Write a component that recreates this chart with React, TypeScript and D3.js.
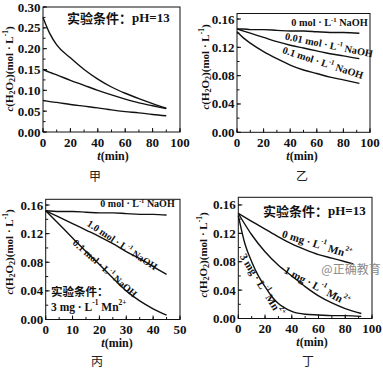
import React from 'react';
import * as d3 from 'd3';

const W = 383;
const H = 369;

// 甲
const jiaTime = [0, 5, 10, 20, 30, 40, 50, 60, 70, 80, 90];
const jiaHigh = [0.275, 0.236, 0.209, 0.178, 0.150, 0.127, 0.108, 0.093, 0.080, 0.068, 0.057];
const jiaMid = [0.150, 0.143, 0.137, 0.124, 0.112, 0.100, 0.089, 0.079, 0.070, 0.063, 0.056];
const jiaLow = [0.076, 0.073, 0.071, 0.066, 0.062, 0.058, 0.053, 0.049, 0.046, 0.042, 0.039];
const jiaXTicks = [0, 20, 40, 60, 80, 100];
const jiaYTicks = [0, 0.05, 0.1, 0.15, 0.2, 0.25, 0.3];

// 乙
const yiTime = [0, 5, 10, 20, 30, 40, 50, 60, 70, 80, 92];
const yiNaOH0 = [0.146, 0.146, 0.145, 0.145, 0.144, 0.143, 0.143, 0.142, 0.141, 0.141, 0.140];
const yiNaOH001 = [0.146, 0.143, 0.140, 0.134, 0.128, 0.123, 0.119, 0.115, 0.111, 0.108, 0.104];
const yiNaOH01 = [0.142, 0.133, 0.126, 0.114, 0.104, 0.095, 0.088, 0.083, 0.078, 0.074, 0.069];
const yiXTicks = [0, 20, 40, 60, 80, 100];
const yiYTicks = [0, 0.04, 0.08, 0.12, 0.16];

// 丙
const bingTime = [0, 5, 10, 15, 20, 25, 30, 35, 40, 45];
const bingNaOH0 = [0.152, 0.151, 0.151, 0.150, 0.149, 0.149, 0.148, 0.147, 0.147, 0.146];
const bingNaOH10 = [0.152, 0.143, 0.134, 0.125, 0.116, 0.106, 0.095, 0.085, 0.074, 0.063];
const bingNaOH01 = [0.152, 0.133, 0.114, 0.095, 0.077, 0.058, 0.040, 0.026, 0.015, 0.006];
const bingXTicks = [0, 10, 20, 30, 40, 50];
const bingYTicks = [0, 0.04, 0.08, 0.12, 0.16];

// 丁
const dingTime0 = [0, 10, 20, 30, 40, 50, 60, 70, 80, 86];
const dingMn0 = [0.148, 0.137, 0.126, 0.115, 0.105, 0.097, 0.090, 0.085, 0.080, 0.077];
const dingTime1 = [0, 10, 20, 30, 40, 50, 60, 70, 80, 92];
const dingMn1 = [0.148, 0.118, 0.094, 0.075, 0.060, 0.045, 0.032, 0.022, 0.014, 0.007];
const dingTime3 = [0, 5, 10, 15, 20, 25, 30, 40, 50, 60, 70, 80, 92];
const dingMn3 = [0.145, 0.105, 0.080, 0.060, 0.045, 0.031, 0.021, 0.010, 0.006, 0.005, 0.004, 0.004, 0.003];
const dingXTicks = [0, 20, 40, 60, 80, 100];
const dingYTicks = [0, 0.04, 0.08, 0.12, 0.16];

const SERIF = '"Liberation Serif", "DejaVu Serif", serif';
const CJK = '"Noto Sans CJK SC", "Noto Sans", sans-serif';

type Series = { t: number[]; c: number[] };
type Ann = { x: number; y: number; angle: number; kind: 'naoh' | 'mn' | 'cond' | 'plain'; text: string; size: number; anchor?: string };

const Sup = ({ s, size }: { s: string; size: number }) => (
  <>
    <tspan dy={-size * 0.4} fontSize={size * 0.65}>{s}</tspan>
    <tspan dy={size * 0.4}> </tspan>
  </>
);

function AnnText({ a }: { a: Ann }) {
  const common = {
    fontFamily: SERIF,
    fontWeight: 'bold' as const,
    fontSize: a.size,
    textAnchor: (a.anchor || 'middle') as any,
    dominantBaseline: 'central' as any,
    fill: '#111',
  };
  let content: React.ReactNode = a.text;
  if (a.kind === 'naoh') {
    content = (
      <>
        {a.text} mol · L<Sup s="-1" size={a.size} />NaOH
      </>
    );
  } else if (a.kind === 'mn') {
    content = (
      <>
        {a.text} mg · L<Sup s="-1" size={a.size} />Mn
        <tspan dy={-a.size * 0.4} fontSize={a.size * 0.65}>2+</tspan>
      </>
    );
  } else if (a.kind === 'cond') {
    content = (
      <>
        <tspan fontFamily={CJK}>实验条件：</tspan>
        {a.text}
      </>
    );
  }
  return (
    <text transform={`translate(${a.x},${a.y}) rotate(${a.angle})`} {...common}>
      {content}
    </text>
  );
}

type PanelProps = {
  left: number; right: number; top: number; bottom: number;
  xMax: number; yMax: number;
  xTicks: number[]; xMinor: number;
  yTicks: number[]; yMinor: number; yFmt: (v: number) => string;
  series: Series[];
  anns: Ann[];
  yTitleX: number; yTitleY: number;
  xTickY: number;
  xTitleX: number; xTitleY: number;
  label: string; labelX: number; labelY: number;
};

function Panel(p: PanelProps) {
  const x = d3.scaleLinear().domain([0, p.xMax]).range([p.left, p.right]);
  const y = d3.scaleLinear().domain([0, p.yMax]).range([p.bottom, p.top]);
  const line = d3
    .line<[number, number]>()
    .x((d) => x(d[0]))
    .y((d) => y(d[1]))
    .curve(d3.curveMonotoneX);
  const xMinorTicks = d3.range(0, p.xMax + 1e-9, p.xMinor);
  const yMinorTicks = d3.range(0, p.yMax + 1e-9, p.yMinor);
  return (
    <g>
      <rect x={p.left} y={p.top} width={p.right - p.left} height={p.bottom - p.top} fill="none" stroke="#111" strokeWidth={1} />
      {xMinorTicks.map((v, i) => (
        <line key={'xm' + i} x1={x(v)} x2={x(v)} y1={p.bottom} y2={p.bottom - 2.5} stroke="#111" />
      ))}
      {yMinorTicks.map((v, i) => (
        <line key={'ym' + i} x1={p.left} x2={p.left + 2.5} y1={y(v)} y2={y(v)} stroke="#111" />
      ))}
      {p.xTicks.map((v) => (
        <g key={'xt' + v}>
          <line x1={x(v)} x2={x(v)} y1={p.bottom} y2={p.bottom - 4} stroke="#111" />
          <text x={x(v)} y={p.bottom + p.xTickY} textAnchor="middle" fontFamily={SERIF} fontWeight="bold" fontSize={13} fill="#111">
            {v}
          </text>
        </g>
      ))}
      {p.yTicks.map((v) => (
        <g key={'yt' + v}>
          <line x1={p.left} x2={p.left + 4} y1={y(v)} y2={y(v)} stroke="#111" />
          <text x={p.left - 2.5} y={y(v) + 4.5} textAnchor="end" fontFamily={SERIF} fontWeight="bold" fontSize={13} fill="#111">
            {p.yFmt(v)}
          </text>
        </g>
      ))}
      {p.series.map((s, i) => (
        <path
          key={'s' + i}
          d={line(s.t.map((t, j) => [t, s.c[j]] as [number, number])) || ''}
          fill="none"
          stroke="#111"
          strokeWidth={1.4}
        />
      ))}
      {p.anns.map((a, i) => (
        <AnnText key={'a' + i} a={a} />
      ))}
      <text
        transform={`translate(${p.yTitleX},${p.yTitleY}) rotate(-90)`}
        textAnchor="middle"
        dominantBaseline="central"
        fontFamily={SERIF}
        fontWeight="bold"
        fontSize={11}
        fill="#111"
      >
        <tspan fontStyle="italic">c</tspan>(H<tspan dy={3} fontSize={8}>2</tspan>
        <tspan dy={-3}>O</tspan>
        <tspan dy={3} fontSize={8}>2</tspan>
        <tspan dy={-3}>)(mol · L</tspan>
        <tspan dy={-4} fontSize={7.5}>-1</tspan>
        <tspan dy={4}>)</tspan>
      </text>
      <text x={p.xTitleX} y={p.xTitleY} textAnchor="middle" fontFamily={SERIF} fontWeight="bold" fontSize={12} fill="#111">
        <tspan fontStyle="italic">t</tspan>(min)
      </text>
      <text x={p.labelX} y={p.labelY} textAnchor="middle" fontFamily={CJK} fontSize={12} fill="#222">
        {p.label}
      </text>
    </g>
  );
}

const f2 = (v: number) => v.toFixed(2);

export default function App() {
  return (
    <svg width={W} height={H} style={{ display: 'block', position: 'absolute', left: 0, top: 0, background: '#fff' }}>
      <rect width={W} height={H} fill="#fff" />
      <Panel
        left={43} right={180} top={7} bottom={132}
        xMax={100} yMax={0.30}
        xTicks={jiaXTicks} xMinor={10}
        yTicks={jiaYTicks} yMinor={0.025} yFmt={f2}
        series={[
          { t: jiaTime, c: jiaHigh },
          { t: jiaTime, c: jiaMid },
          { t: jiaTime, c: jiaLow },
        ]}
        anns={[{ x: 67, y: 17, angle: 0, kind: 'cond', text: 'pH=13', size: 13, anchor: 'start' }]}
        yTitleX={9} yTitleY={69}
        xTickY={15}
        xTitleX={113} xTitleY={160}
        label="甲" labelX={95} labelY={181}
      />
      <Panel
        left={237} right={370} top={13.5} bottom={132.3}
        xMax={100} yMax={0.1678}
        xTicks={yiXTicks} xMinor={10}
        yTicks={yiYTicks} yMinor={0.02} yFmt={f2}
        series={[
          { t: yiTime, c: yiNaOH0 },
          { t: yiTime, c: yiNaOH001 },
          { t: yiTime, c: yiNaOH01 },
        ]}
        anns={[
          { x: 329.5, y: 22.7, angle: 0, kind: 'naoh', text: '0', size: 10.3 },
          { x: 329, y: 45, angle: 11.5, kind: 'naoh', text: '0.01', size: 10.3 },
          { x: 323, y: 62.7, angle: 18, kind: 'naoh', text: '0.1', size: 10.3 },
        ]}
        yTitleX={205} yTitleY={67}
        xTickY={15}
        xTitleX={302} xTitleY={160}
        label="乙" labelX={302} labelY={181}
      />
      <Panel
        left={45.7} right={180} top={199.3} bottom={319.5}
        xMax={50} yMax={0.168}
        xTicks={bingXTicks} xMinor={5}
        yTicks={bingYTicks} yMinor={0.02} yFmt={f2}
        series={[
          { t: bingTime, c: bingNaOH0 },
          { t: bingTime, c: bingNaOH10 },
          { t: bingTime, c: bingNaOH01 },
        ]}
        anns={[
          { x: 137.5, y: 203.5, angle: 0, kind: 'naoh', text: '0', size: 10 },
          { x: 122.3, y: 245, angle: 33.5, kind: 'naoh', text: '1.0', size: 10 },
          { x: 105, y: 268.3, angle: 41.5, kind: 'naoh', text: '0.1', size: 10 },
          { x: 51, y: 291, angle: 0, kind: 'cond', text: '', size: 11.5, anchor: 'start' },
          { x: 51, y: 307, angle: 0, kind: 'mn', text: '3', size: 11.5, anchor: 'start' },
        ]}
        yTitleX={9} yTitleY={252}
        xTickY={14}
        xTitleX={117} xTitleY={347}
        label="丙" labelX={97} labelY={366}
      />
      <Panel
        left={238.3} right={372} top={197.3} bottom={318.5}
        xMax={100} yMax={0.1708}
        xTicks={dingXTicks} xMinor={10}
        yTicks={dingYTicks} yMinor={0.02} yFmt={f2}
        series={[
          { t: dingTime0, c: dingMn0 },
          { t: dingTime1, c: dingMn1 },
          { t: dingTime3, c: dingMn3 },
        ]}
        anns={[
          { x: 263, y: 210, angle: 0, kind: 'cond', text: 'pH=13', size: 13, anchor: 'start' },
          { x: 317, y: 244, angle: 17.5, kind: 'mn', text: '0', size: 11 },
          { x: 317, y: 286, angle: 28, kind: 'mn', text: '1', size: 11 },
          { x: 262, y: 285, angle: 58, kind: 'mn', text: '3', size: 11 },
        ]}
        yTitleX={203} yTitleY={255}
        xTickY={14}
        xTitleX={312} xTitleY={346}
        label="丁" labelX={308} labelY={366}
      />
      <text x={351} y={268} textAnchor="middle" dominantBaseline="central" fontFamily={CJK} fontSize={12} fill="#8a8a8a">
        @正确教育
      </text>
    </svg>
  );
}
